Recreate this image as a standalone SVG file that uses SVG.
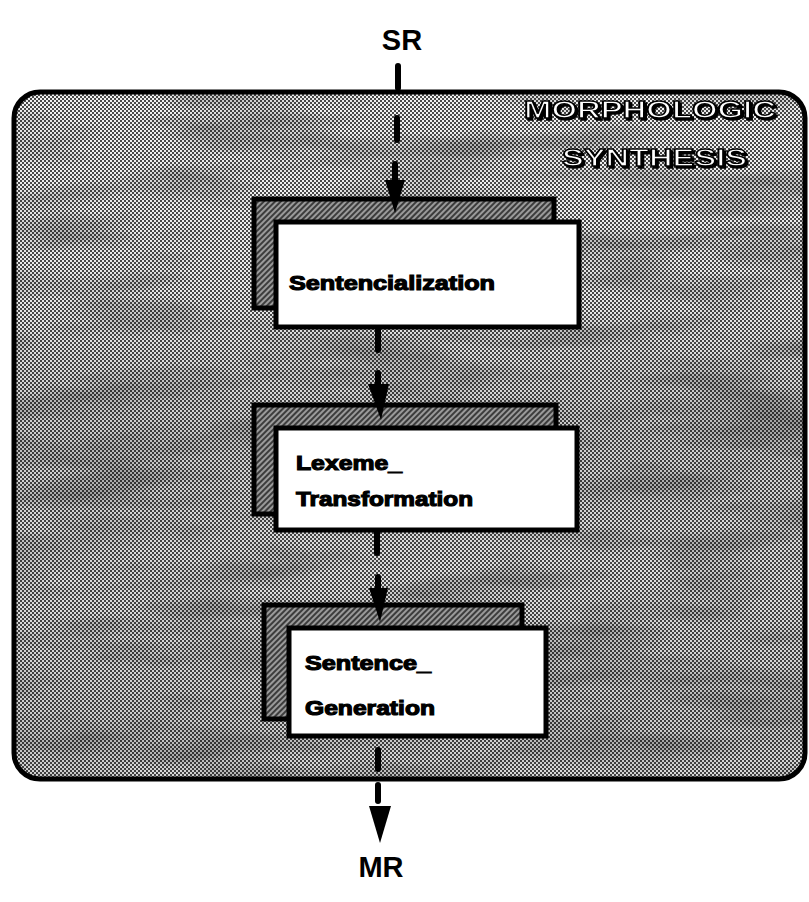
<svg xmlns="http://www.w3.org/2000/svg" width="809" height="902" viewBox="0 0 809 902">
  <style>
    .lbl { font-family: "Liberation Sans", Arial, sans-serif; font-weight: bold; fill: #000; }
    .node-text { font-family: "Liberation Sans", Arial, sans-serif; font-weight: bold; font-size: 21px; fill: #000; stroke: #000; stroke-width: 1.2; }
    .title { font-family: "Liberation Sans", Arial, sans-serif; font-weight: bold; font-size: 23px; fill: #fff; stroke: #000; stroke-width: 1.4; filter: url(#drop); }
    .front { fill: #fff; stroke: #000; stroke-width: 5; }
    .back { fill: url(#hatch); stroke: #000; stroke-width: 5; }
    .dash { stroke: #000; stroke-width: 6; stroke-linecap: round; fill: none; }
    .head { fill: #000; }
  </style>
  <defs>
    <!-- halftone checker for the module background -->
    <pattern id="dots" width="4" height="4" patternUnits="userSpaceOnUse">
      <rect width="4" height="4" fill="#f2f2f2"/>
      <rect x="0" y="0" width="2" height="2" fill="#4a4a4a"/>
      <rect x="2" y="2" width="2" height="2" fill="#4a4a4a"/>
    </pattern>
    <!-- diagonal hatch for the shadow panels -->
    <pattern id="hatch" width="4" height="4" patternUnits="userSpaceOnUse" patternTransform="rotate(45)">
      <rect width="4" height="4" fill="#9a9a9a"/>
      <rect width="2" height="4" fill="#3c3c3c"/>
    </pattern>
    <!-- mottled darkening -->
    <filter id="mottle" x="0" y="0" width="100%" height="100%">
      <feTurbulence type="fractalNoise" baseFrequency="0.006 0.03" numOctaves="3" seed="7" result="n"/>
      <feColorMatrix in="n" type="matrix" values="0 0 0 0 0  0 0 0 0 0  0 0 0 0 0  0 0 0 -2.2 1.25"/>
    </filter>
    <!-- hard black drop shadow for the outlined title -->
    <filter id="drop" x="-5%" y="-20%" width="110%" height="150%">
      <feDropShadow dx="2" dy="2" stdDeviation="0.4" flood-color="#000" flood-opacity="1"/>
    </filter>
    <linearGradient id="band" x1="0" y1="0" x2="0" y2="1">
      <stop offset="0" stop-color="#000" stop-opacity="0"/>
      <stop offset="0.3" stop-color="#000" stop-opacity="0.04"/>
      <stop offset="0.5" stop-color="#000" stop-opacity="0.16"/>
      <stop offset="0.7" stop-color="#000" stop-opacity="0.08"/>
      <stop offset="0.92" stop-color="#000" stop-opacity="0.16"/>
      <stop offset="1" stop-color="#000" stop-opacity="0.1"/>
    </linearGradient>
    <clipPath id="boxclip">
      <rect x="14" y="92" width="791" height="687" rx="26"/>
    </clipPath>
  </defs>

  <rect width="809" height="902" fill="#fff"/>

  <!-- Module container -->
  <g id="morphologic-synthesis">
    <rect x="14" y="92" width="791" height="687" rx="26" fill="url(#dots)"/>
    <g clip-path="url(#boxclip)">
      <rect x="14" y="92" width="791" height="687" fill="url(#band)"/>
      <rect x="14" y="92" width="791" height="687" filter="url(#mottle)" opacity="0.28"/>
    </g>
    <rect x="14" y="92" width="791" height="687" rx="26" fill="none" stroke="#000" stroke-width="5"/>
    <text class="title" x="524" y="118" textLength="252" lengthAdjust="spacingAndGlyphs">MORPHOLOGIC</text>
    <text class="title" x="562" y="166" textLength="185" lengthAdjust="spacingAndGlyphs">SYNTHESIS</text>
  </g>

  <!-- Terminal labels -->
  <g id="sr">
    <text class="lbl" x="402" y="50" font-size="29" text-anchor="middle">SR</text>
  </g>
  <g id="mr">
    <text class="lbl" x="381" y="877" font-size="29" text-anchor="middle">MR</text>
  </g>

  <!-- Processing stages -->
  <g id="sentencialization">
    <rect class="back" x="254" y="199" width="300" height="109"/>
    <rect class="front" x="276" y="222" width="303" height="105"/>
    <text class="node-text" x="289" y="290" textLength="206" lengthAdjust="spacingAndGlyphs">Sentencialization</text>
  </g>

  <g id="lexeme-transformation">
    <rect class="back" x="254" y="405" width="302" height="109"/>
    <rect class="front" x="276" y="428" width="301" height="102"/>
    <text class="node-text" x="296" y="470" textLength="106" lengthAdjust="spacingAndGlyphs">Lexeme_</text>
    <text class="node-text" x="296" y="506" textLength="177" lengthAdjust="spacingAndGlyphs">Transformation</text>
  </g>

  <g id="sentence-generation">
    <rect class="back" x="264" y="605" width="258" height="114"/>
    <rect class="front" x="289" y="628" width="257" height="108"/>
    <text class="node-text" x="305" y="670" textLength="126" lengthAdjust="spacingAndGlyphs">Sentence_</text>
    <text class="node-text" x="305" y="715" textLength="130" lengthAdjust="spacingAndGlyphs">Generation</text>
  </g>

  <!-- Dashed data-flow connectors -->
  <g id="connectors">
    <line class="dash" x1="398" y1="66" x2="398" y2="88"/>
    <line class="dash" x1="397" y1="118" x2="397" y2="140"/>
    <line class="dash" x1="395" y1="164" x2="395" y2="182"/>
    <polygon class="head" points="385,180 405,180 395,213"/>

    <line class="dash" x1="378" y1="330" x2="378" y2="350"/>
    <line class="dash" x1="378" y1="373" x2="378" y2="386"/>
    <polygon class="head" points="368,384 389,384 381,420"/>

    <line class="dash" x1="377" y1="532" x2="377" y2="553"/>
    <line class="dash" x1="378" y1="577" x2="378" y2="590"/>
    <polygon class="head" points="369,588 388,588 380,622"/>

    <line class="dash" x1="378" y1="750" x2="378" y2="769"/>
    <line class="dash" x1="378" y1="785" x2="378" y2="801"/>
    <polygon class="head" points="369,806 391,806 380,843"/>
  </g>
</svg>
